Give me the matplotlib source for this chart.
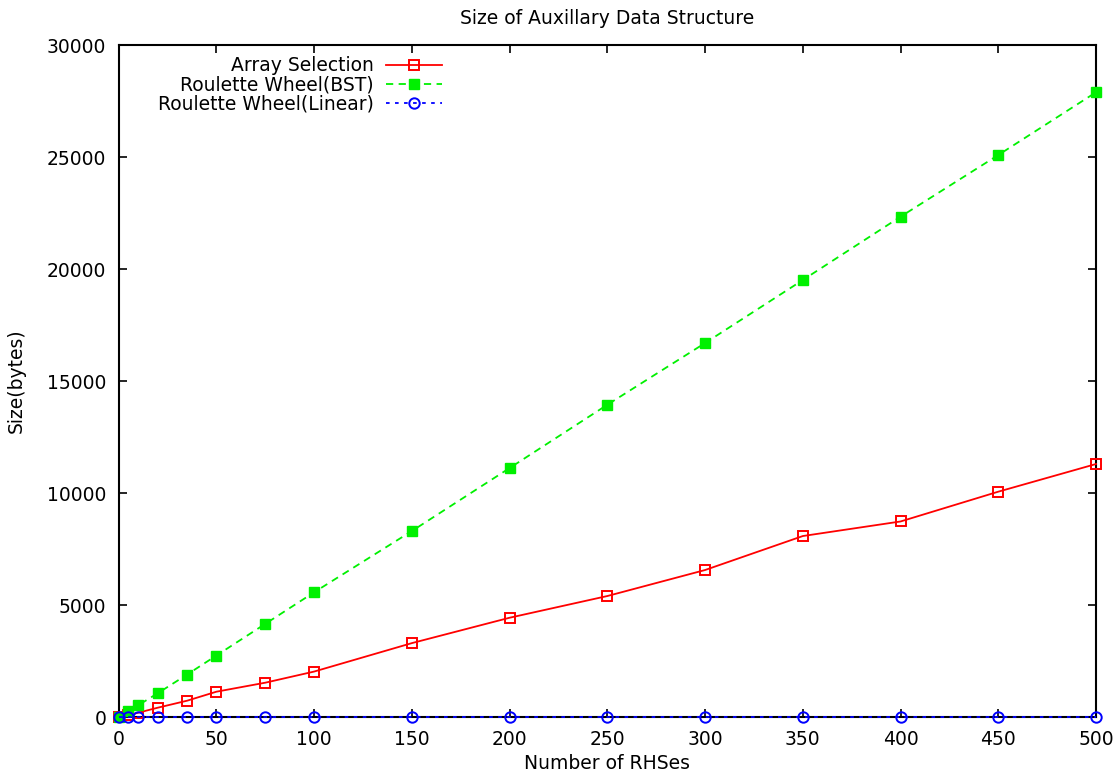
import matplotlib
matplotlib.use("Agg")
import matplotlib.pyplot as plt

# data
rhses = [0, 5, 10, 20, 35, 50, 75, 100, 150, 200, 250, 300, 350, 400, 450, 500]
array_sel = [0, 90, 193, 417, 729, 1131, 1533, 2030, 3300, 4433, 5402, 6563, 8080, 8730, 10060, 11295]
wheel_bst = [0, 259, 527, 1063, 1897, 2746, 4160, 5570, 8304, 11116, 13942, 16696, 19509, 22336, 25089, 27890]
wheel_lin = [0] * len(rhses)

plt.rcParams['font.family'] = ['DejaVu Sans']
FS = 13.5

fig = plt.figure(figsize=(11.2, 7.76), dpi=100)
ax = fig.add_axes([0.106, 0.076, 0.8726, 0.866])

ax.plot(rhses, array_sel, color='#ff0000', lw=1.3, ls='-', marker='s', ms=7.5,
        mfc='none', mec='#ff0000', mew=1.4, clip_on=False, zorder=3,
        label='Array Selection')
ax.plot(rhses, wheel_bst, color='#00f000', lw=1.3, ls=(0, (4, 3)), marker='s', ms=7.5,
        mfc='#00f000', mec='#00f000', clip_on=False, zorder=3,
        label='Roulette Wheel(BST)')
ax.plot(rhses, wheel_lin, color='#0000ff', lw=1.3, ls=(0, (2, 3)), marker='o', ms=7.5,
        mfc='none', mec='#0000ff', mew=1.4, clip_on=False, zorder=4,
        label='Roulette Wheel(Linear)')

ax.set_xlim(0, 500)
ax.set_ylim(0, 30000)
ax.set_xticks(range(0, 501, 50))
ax.set_yticks(range(0, 30001, 5000))

ax.tick_params(direction='in', length=6, width=1.2, top=True, right=True,
               labelsize=FS, pad=9)
for s in ax.spines.values():
    s.set_linewidth(1.5)

ax.set_title('Size of Auxillary Data Structure', fontsize=FS, pad=15)
ax.set_xlabel('Number of RHSes', fontsize=FS, labelpad=4)
ax.set_ylabel('Size(bytes)', fontsize=FS, labelpad=15)

leg = ax.legend(loc='upper right', bbox_to_anchor=(0.331, 0.983), frameon=False,
                markerfirst=False, fontsize=FS, handlelength=3.0, handletextpad=0.65,
                labelspacing=0.0, borderpad=0, borderaxespad=0)

fig.savefig('out.png', dpi=100)
